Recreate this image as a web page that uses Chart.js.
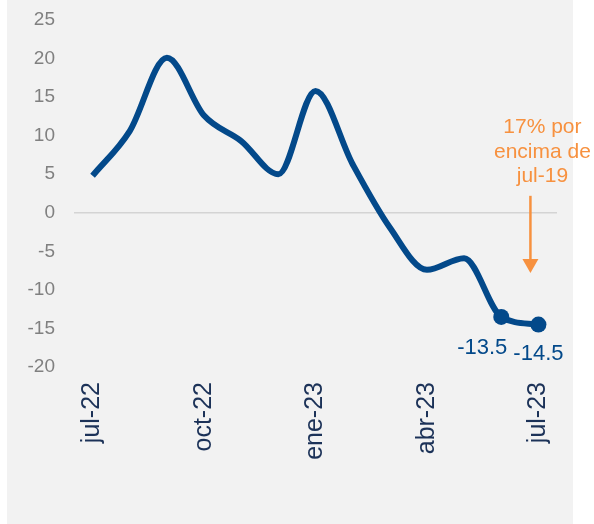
<!DOCTYPE html>
<html>
<head>
<meta charset="utf-8">
<script src="https://cdn.jsdelivr.net/npm/chart.js@4"></script>
<style>
  html, body { margin: 0; padding: 0; background: #ffffff; }
  #wrap { position: relative; width: 594px; height: 524px; }
</style>
</head>
<body>
<div id="wrap"><canvas id="chart" width="594" height="524"></canvas></div>
<script>
    'use strict';

    // monthly values, jul-22 .. jul-23
    var months = ['jul-22', 'ago-22', 'sep-22', 'oct-22', 'nov-22', 'dic-22', 'ene-23',
        'feb-23', 'mar-23', 'abr-23', 'may-23', 'jun-23', 'jul-23'];
    var values = [4.8, 10.6, 20.1, 12.6, 9.3, 5.0, 15.8, 6.3, -1.9, -7.4, -5.9, -13.5, -14.5];
    var yTicks = [-20, -15, -10, -5, 0, 5, 10, 15, 20, 25];
    var noteLines = ['17% por', 'encima de', 'jul-19'];

    var lineColor = '#03498a';
    var noteColor = '#f7913f';
    var font = "'Liberation Sans', Arial, sans-serif";

    // only the last two points get a marker and a label
    var lastTwo = values.length - 2;
    var pointSizes = values.map((v, i) => i >= lastTwo ? 8 : 0);

    var panelBg = {
        id: 'panelBg',
        beforeDraw: function (chart) {
            var ctx = chart.ctx;
            ctx.save();
            ctx.fillStyle = '#f2f2f2';
            ctx.fillRect(7, 0, 566, chart.height);
            ctx.restore();
        }
    };

    var pointLabels = {
        id: 'pointLabels',
        afterDatasetsDraw: function (chart) {
            var ctx = chart.ctx;
            var meta = chart.getDatasetMeta(0);
            var shifts = [[-19, 37], [0, 35]];
            ctx.save();
            ctx.font = '22px ' + font;
            ctx.fillStyle = lineColor;
            ctx.textAlign = 'center';
            ctx.textBaseline = 'alphabetic';
            for (var i = lastTwo; i < values.length; i++) {
                var p = meta.data[i];
                var s = shifts[i - lastTwo];
                ctx.fillText(String(values[i]), p.x + s[0], p.y + s[1]);
            }
            ctx.restore();
        }
    };

    var note = {
        id: 'note',
        afterDraw: function (chart) {
            var ctx = chart.ctx;
            var x = chart.scales.x;
            var y = chart.scales.y;
            var px = x.getPixelForValue(values.length - 1);
            var arrowX = px - 8;
            var top = y.getPixelForValue(2.2);
            var tip = y.getPixelForValue(-7.8);
            ctx.save();
            ctx.fillStyle = noteColor;
            ctx.strokeStyle = noteColor;
            ctx.font = '21px ' + font;
            ctx.textAlign = 'center';
            noteLines.forEach((t, i) => {
                ctx.fillText(t, px + 4, y.getPixelForValue(10.3) + i * 24.5);
            });
            ctx.lineWidth = 2.5;
            ctx.beginPath();
            ctx.moveTo(arrowX, top);
            ctx.lineTo(arrowX, tip - 12);
            ctx.stroke();
            ctx.beginPath();
            ctx.moveTo(arrowX - 8, tip - 14);
            ctx.lineTo(arrowX + 8, tip - 14);
            ctx.lineTo(arrowX, tip);
            ctx.closePath();
            ctx.fill();
            ctx.restore();
        }
    };

    var chart = new Chart(document.getElementById('chart'), {
        type: 'line',
        data: {
            labels: months,
            datasets: [{
                data: values,
                borderColor: lineColor,
                backgroundColor: lineColor,
                borderWidth: 6,
                tension: 0.4,
                cubicInterpolationMode: 'monotone',
                pointRadius: pointSizes,
                pointHoverRadius: pointSizes,
                pointBackgroundColor: lineColor,
                pointBorderWidth: 0,
                fill: false
            }]
        },
        options: {
            responsive: false,
            animation: false,
            layout: { padding: { top: 0, right: 37, left: 0, bottom: 0 } },
            plugins: {
                legend: { display: false },
                tooltip: { enabled: false }
            },
            scales: {
                x: {
                    offset: true,
                    grid: { display: false, drawTicks: false },
                    border: { display: false },
                    afterFit: function (axis) { axis.height = 157; },
                    ticks: {
                        autoSkip: false,
                        minRotation: 90,
                        maxRotation: 90,
                        padding: 15,
                        color: '#1c3258',
                        font: { family: font, size: 25 },
                        callback: function (val, i) { return i % 3 === 0 ? months[i] : ''; }
                    }
                },
                y: {
                    min: yTicks[0],
                    max: yTicks[yTicks.length - 1],
                    afterBuildTicks: function (axis) {
                        axis.ticks = yTicks.map(v => ({ value: v }));
                    },
                    afterFit: function (axis) {
                        axis.width = 74;
                        axis.paddingTop = 20;
                        axis.paddingBottom = 0;
                    },
                    grid: {
                        drawTicks: false,
                        color: ctx => ctx.tick && ctx.tick.value === 0 ? '#d4d4d4' : 'transparent',
                        lineWidth: 1.5
                    },
                    border: { display: false },
                    ticks: {
                        padding: 19,
                        color: '#808080',
                        font: { family: font, size: 19 }
                    }
                }
            }
        },
        plugins: [panelBg, pointLabels, note]
    });
</script>
</body>
</html>
